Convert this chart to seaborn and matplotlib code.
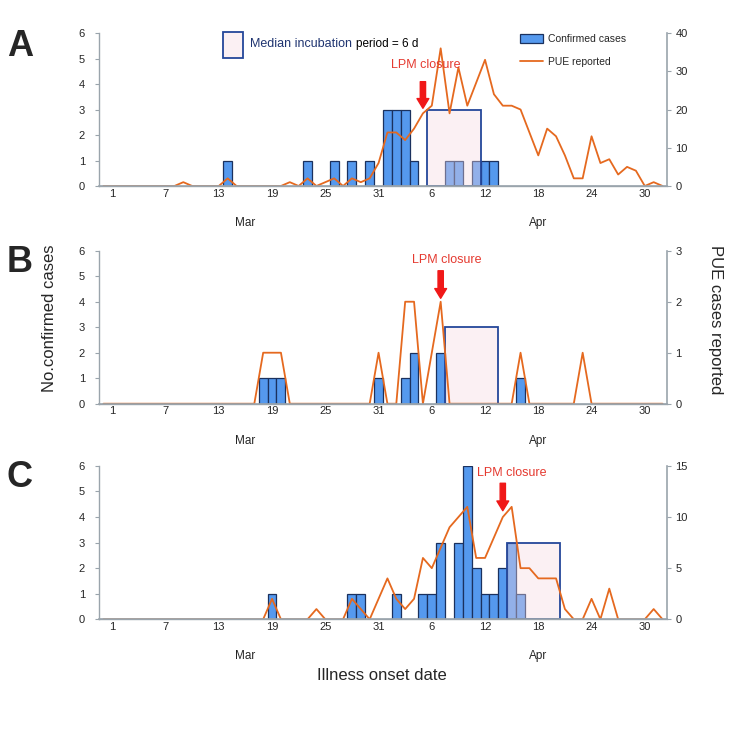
import numpy as np
import pandas as pd
import matplotlib
matplotlib.use("Agg")
import matplotlib.pyplot as plt
import seaborn as sns
from matplotlib.patches import Rectangle, Patch
from matplotlib.lines import Line2D
from matplotlib.colors import to_rgba

# one slot per day: Feb 28, Mar 1-31, Apr 1-30, May 1-2
dates = pd.date_range("2013-02-28", "2013-05-02", freq="D")

# --- panel A -------------------------------------------------------------
cases_a = ([0]
           + [0, 0, 0, 0, 0, 0, 0, 0, 0, 0, 0, 0, 0, 1, 0, 0, 0, 0, 0, 0,
              0, 0, 1, 0, 0, 1, 0, 1, 0, 1, 0]
           + [3, 3, 3, 1, 0, 0, 0, 1, 1, 0, 1, 1, 1, 0, 0, 0, 0, 0, 0, 0,
              0, 0, 0, 0, 0, 0, 0, 0, 0, 0]
           + [0, 0])
pue_a = ([0]
         + [0, 0, 0, 0, 0, 0, 0, 0, 1, 0, 0, 0, 0, 2, 0, 0, 0, 0, 0, 0,
            1, 0, 2, 0, 1, 2, 0, 2, 1, 2, 6]
         + [14, 14, 12, 15, 19, 21, 36, 19, 31, 21, 27, 33, 24, 21, 21, 20, 14, 8, 15, 13,
            8, 2, 2, 13, 6, 7, 3, 5, 4, 0]
         + [1, 0])

# --- panel B -------------------------------------------------------------
cases_b = ([0]
           + [0, 0, 0, 0, 0, 0, 0, 0, 0, 0, 0, 0, 0, 0, 0, 0, 0, 1, 1, 1,
              0, 0, 0, 0, 0, 0, 0, 0, 0, 0, 1]
           + [0, 0, 1, 2, 0, 0, 2, 0, 0, 0, 0, 0, 0, 0, 0, 1, 0, 0, 0, 0,
              0, 0, 0, 0, 0, 0, 0, 0, 0, 0]
           + [0, 0])
pue_b = ([0]
         + [0, 0, 0, 0, 0, 0, 0, 0, 0, 0, 0, 0, 0, 0, 0, 0, 0, 1, 1, 1,
            0, 0, 0, 0, 0, 0, 0, 0, 0, 0, 1]
         + [0, 0, 2, 2, 0, 1, 2, 0, 0, 0, 0, 0, 0, 0, 0, 1, 0, 0, 0, 0,
            0, 0, 1, 0, 0, 0, 0, 0, 0, 0]
         + [0, 0])

# --- panel C -------------------------------------------------------------
cases_c = ([0]
           + [0, 0, 0, 0, 0, 0, 0, 0, 0, 0, 0, 0, 0, 0, 0, 0, 0, 0, 1, 0,
              0, 0, 0, 0, 0, 0, 0, 1, 1, 0, 0]
           + [0, 1, 0, 0, 1, 1, 3, 0, 3, 6, 2, 1, 1, 2, 3, 1, 0, 0, 0, 0,
              0, 0, 0, 0, 0, 0, 0, 0, 0, 0]
           + [0, 0])
pue_c = ([0]
         + [0, 0, 0, 0, 0, 0, 0, 0, 0, 0, 0, 0, 0, 0, 0, 0, 0, 0, 2, 0,
            0, 0, 0, 1, 0, 0, 0, 2, 1, 0, 2]
         + [4, 2, 1, 2, 6, 5, 7, 9, 10, 11, 6, 6, 8, 10, 11, 5, 5, 4, 4, 4,
            1, 0, 0, 2, 0, 3, 0, 0, 0, 0]
         + [1, 0])

panels = ["A", "B", "C"]
case_series = [cases_a, cases_b, cases_c]
pue_series = [pue_a, pue_b, pue_c]
pue_max = [40, 3, 15]
pue_ticks = [[0, 10, 20, 30, 40], [0, 1, 2, 3], [0, 5, 10, 15]]
closure_eve = ["2013-04-05", "2013-04-07", "2013-04-14"]   # arrow position
incub_start = ["2013-04-06", "2013-04-08", "2013-04-15"]   # 6-day box
incub_days = 6
incub_height = 3

tick_days = ["2013-03-01", "2013-03-07", "2013-03-13", "2013-03-19", "2013-03-25",
             "2013-03-31", "2013-04-06", "2013-04-12", "2013-04-18", "2013-04-24",
             "2013-04-30"]
tick_labels = ["1", "7", "13", "19", "25", "31", "6", "12", "18", "24", "30"]
months = ["Mar", "Apr"]
month_days = ["2013-03-16", "2013-04-18"]

BAR = "#5599ee"
BAR_EDGE = "#1b315e"
LINE = "#e5691f"
BOX_EDGE = "#24479a"
BOX_FACE = to_rgba("#f6d8e2", 0.38)
RED_TXT = "#e53a30"
ARROW = "#f01818"
GREY = "#9aa4ac"

sns.set_style("white")
plt.rcParams["font.family"] = ["Liberation Sans", "DejaVu Sans"]

origin = pd.Timestamp("2013-03-01")


def slot(d):
    return (pd.Timestamp(d) - origin).days


pos = (dates - origin).days

fig = plt.figure(figsize=(7.5, 7.34), dpi=100)
boxes = [[0.132, 0.7466, 0.7573, 0.2084],
         [0.132, 0.4500, 0.7573, 0.2084],
         [0.132, 0.1563, 0.7573, 0.2089]]
arrow_y = [(0.508, 0.682, 0.79), (0.689, 0.869, 0.94), (0.708, 0.887, 0.956)]
text_shift = [0.35, 0.7, 1.0]
letter_y = [46, 262, 478]

first_ax = None
for i, name in enumerate(panels):
    ax = fig.add_axes(boxes[i])
    if first_ax is None:
        first_ax = ax
    df = pd.DataFrame({"pos": pos, "cases": case_series[i], "pue": pue_series[i]})

    sns.barplot(data=df[df.cases > 0], x="pos", y="cases", native_scale=True,
                width=1.0, color=BAR, saturation=1, edgecolor=BAR_EDGE,
                linewidth=0.9, errorbar=None, ax=ax, zorder=2)

    # median incubation window
    x0 = slot(incub_start[i]) - 0.5
    ax.add_patch(Rectangle((x0, 0), incub_days, incub_height, facecolor=BOX_FACE,
                           edgecolor=BOX_EDGE, linewidth=1.3, zorder=3))

    ax.set_xlim(pos[0] - 0.5, pos[-1] + 0.5)
    ax.set_ylim(0, 6)
    ax.set_yticks(range(7))
    ax.set_xticks([slot(d) for d in tick_days])
    ax.set_xticklabels(tick_labels)
    ax.set_xticks(np.arange(pos[0] - 0.5, pos[-1] + 1), minor=True)
    ax.tick_params(axis="x", which="major", length=0, pad=2, labelsize=8)
    ax.tick_params(axis="x", which="minor", length=2.5, width=0.8, color=GREY)
    ax.tick_params(axis="y", length=3, width=0.8, color=GREY, pad=7, labelsize=8, left=True)
    ax.set_xlabel("")
    ax.set_ylabel("")
    for s in ["top", "right"]:
        ax.spines[s].set_visible(False)
    for s in ["left", "bottom"]:
        ax.spines[s].set_color(GREY)
        ax.spines[s].set_linewidth(1.0)

    for m, md in zip(months, month_days):
        ax.text(slot(md), -0.242, m, transform=ax.get_xaxis_transform(),
                ha="center", va="center", fontsize=8.5)

    ax2 = ax.twinx()
    sns.lineplot(data=df, x="pos", y="pue", color=LINE, linewidth=1.3, ax=ax2)
    ax2.set_xlim(ax.get_xlim())
    ax2.set_ylim(0, pue_max[i])
    ax2.set_yticks(pue_ticks[i])
    ax2.set_xlabel("")
    ax2.set_ylabel("")
    ax2.tick_params(axis="y", length=3, width=0.8, color=GREY, pad=3, labelsize=8, right=True)
    for s in ["top", "left"]:
        ax2.spines[s].set_visible(False)
    for s in ["right", "bottom"]:
        ax2.spines[s].set_color(GREY)
        ax2.spines[s].set_linewidth(1.2)

    # LPM closure arrow
    tip, tail, txt_y = arrow_y[i]
    xa = slot(closure_eve[i])
    ax2.annotate("", xy=(xa, tip), xytext=(xa, tail), xycoords=("data", "axes fraction"),
                 textcoords=("data", "axes fraction"),
                 arrowprops=dict(arrowstyle="simple,head_length=0.7,head_width=0.85,tail_width=0.38",
                                 color=ARROW, mutation_scale=10, shrinkA=0, shrinkB=0))
    ax2.text(xa + text_shift[i], txt_y, "LPM closure", transform=ax2.get_xaxis_transform(),
             ha="center", va="center", color=RED_TXT, fontsize=9)

    fig.text(20 / 750, 1 - letter_y[i] / 734, name, fontsize=26, fontweight="bold",
             ha="center", va="center")

    if i == 0:
        handles = [Patch(facecolor=BAR, edgecolor=BAR_EDGE, linewidth=0.9),
                   Line2D([0], [0], color=LINE, linewidth=1.3)]
        ax2.legend(handles, ["Confirmed cases", "PUE reported"], loc="upper left",
                   bbox_to_anchor=(520 / 750, 1 - 34 / 734), bbox_transform=fig.transFigure,
                   frameon=False, fontsize=7.5, handlelength=2.17, handleheight=0.87,
                   handletextpad=0.48, labelspacing=1.25, borderpad=0, borderaxespad=0)

# median incubation key
fig.add_artist(Rectangle((222.7 / 750, 1 - 58.3 / 734), 20 / 750, 26.6 / 734,
                         transform=fig.transFigure, facecolor=BOX_FACE,
                         edgecolor=BOX_EDGE, linewidth=1.3))
t1 = fig.text(250 / 750, 1 - 44 / 734, "Median incubation ", color="#1f3470",
              fontsize=9, ha="left", va="center")
first_ax.annotate("period = 6 d", xy=(1, 0), xycoords=t1, xytext=(0, 0),
                  textcoords="offset points", fontsize=8.5, color="black",
                  ha="left", va="bottom", annotation_clip=False)

fig.text(50 / 750, 1 - 318 / 734, "No.confirmed cases", rotation=90, fontsize=12,
         ha="center", va="center")
fig.text(716 / 750, 1 - 320 / 734, "PUE cases reported", rotation=270, fontsize=12,
         ha="center", va="center")
fig.text(382 / 750, 1 - 676 / 734, "Illness onset date", fontsize=12,
         ha="center", va="center")

fig.savefig("out.png", dpi=100)
